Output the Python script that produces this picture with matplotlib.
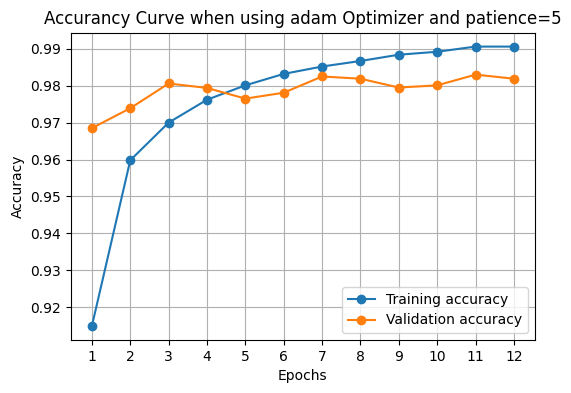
import matplotlib
matplotlib.use('Agg')
import matplotlib.pyplot as plt

epochs = list(range(1, 13))
train_acc = [0.9149, 0.9598, 0.9700, 0.9762, 0.9801, 0.9832,
             0.9852, 0.9867, 0.9884, 0.9892, 0.9906, 0.9906]
val_acc = [0.9685, 0.9739, 0.9806, 0.9794, 0.9765, 0.9781,
           0.9825, 0.9819, 0.9795, 0.9801, 0.9830, 0.9819]

fig, ax = plt.subplots(figsize=(5.71, 3.93), dpi=100)
fig.subplots_adjust(left=0.124, right=0.937, top=0.917, bottom=0.135)

ax.plot(epochs, train_acc, marker='o', label='Training accuracy')
ax.plot(epochs, val_acc, marker='o', label='Validation accuracy')
ax.set_xticks(epochs)
ax.set_xlabel('Epochs')
ax.set_ylabel('Accuracy')
ax.set_title('Accurancy Curve when using adam Optimizer and patience=5')
ax.grid()
ax.legend(loc='lower right')

fig.savefig('out.png')
